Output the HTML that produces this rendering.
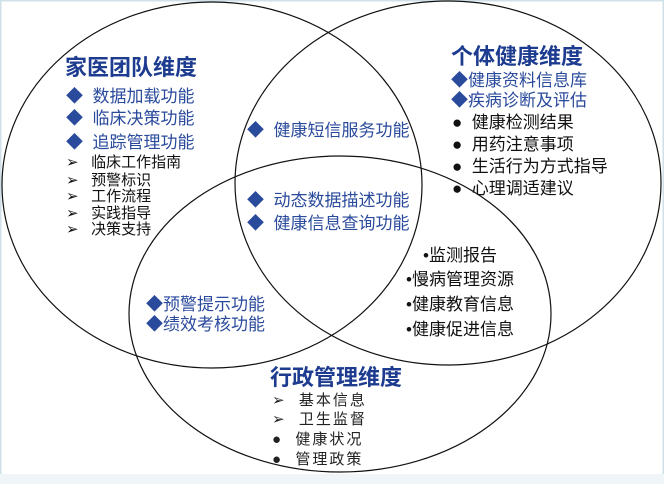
<!DOCTYPE html>
<html><head><meta charset="utf-8"><style>
body{margin:0;width:664px;height:484px;background:#fff;overflow:hidden;position:relative;font-family:"Liberation Sans","Noto Sans CJK SC",sans-serif}
.t{position:absolute;white-space:nowrap;line-height:1}
.h{font-weight:bold;font-size:22px;color:#1d3c8f}
.b{color:#2a4a9c;font-size:17px}
.k{color:#111;font-size:17px}
.k2{color:#111;font-size:15px}
.w{color:#222;font-size:15px;letter-spacing:2px}
</style></head><body>
<svg width="664" height="484" style="position:absolute;left:0;top:0">
<rect x="0.5" y="0.5" width="663" height="483" fill="none" stroke="#cfe0e8" stroke-width="2"/>
<rect x="0" y="474" width="664" height="10" fill="#f0f6f8"/>
<g fill="none" stroke="#111" stroke-width="1.2">
<ellipse cx="212" cy="185" rx="210" ry="183"/>
<ellipse cx="448" cy="183" rx="213" ry="182"/>
<ellipse cx="340" cy="314" rx="211" ry="158"/>
</g></svg>
<div class="t h" style="left:65px;top:57px">家医团队维度</div>
<div class="t b" style="left:66px;top:88px">◆&nbsp;&nbsp;数据加载功能</div>
<div class="t b" style="left:66px;top:110px">◆&nbsp;&nbsp;临床决策功能</div>
<div class="t b" style="left:66px;top:134px">◆&nbsp;&nbsp;追踪管理功能</div>
<div class="t k2" style="left:66px;top:155px">➢&nbsp;&nbsp;&nbsp;临床工作指南</div>
<div class="t k2" style="left:66px;top:173px">➢&nbsp;&nbsp;&nbsp;预警标识</div>
<div class="t k2" style="left:66px;top:189px">➢&nbsp;&nbsp;&nbsp;工作流程</div>
<div class="t k2" style="left:66px;top:206px">➢&nbsp;&nbsp;&nbsp;实践指导</div>
<div class="t k2" style="left:66px;top:222px">➢&nbsp;&nbsp;&nbsp;决策支持</div>
<div class="t b" style="left:247px;top:122px">◆&nbsp;&nbsp;健康短信服务功能</div>
<div class="t b" style="left:247px;top:192px">◆&nbsp;&nbsp;动态数据描述功能</div>
<div class="t b" style="left:247px;top:215px">◆&nbsp;&nbsp;健康信息查询功能</div>
<div class="t h" style="left:451px;top:46px">个体健康维度</div>
<div class="t b" style="left:451px;top:72px">◆健康资料信息库</div>
<div class="t b" style="left:451px;top:92px">◆疾病诊断及评估</div>
<div class="t k" style="left:452px;top:114px">●&nbsp;&nbsp;健康检测结果</div>
<div class="t k" style="left:452px;top:136px">●&nbsp;&nbsp;用药注意事项</div>
<div class="t k" style="left:452px;top:158px">●&nbsp;&nbsp;生活行为方式指导</div>
<div class="t k" style="left:452px;top:180px">●&nbsp;&nbsp;心理调适建议</div>
<div class="t k" style="left:423px;top:247px">•监测报告</div>
<div class="t k" style="left:406px;top:271px">•慢病管理资源</div>
<div class="t k" style="left:406px;top:296px">•健康教育信息</div>
<div class="t k" style="left:406px;top:321px">•健康促进信息</div>
<div class="t b" style="left:146px;top:296px">◆预警提示功能</div>
<div class="t b" style="left:146px;top:316px">◆绩效考核功能</div>
<div class="t h" style="left:270px;top:367px">行政管理维度</div>
<div class="t w" style="left:272px;top:393px">➢&nbsp;&nbsp;基本信息</div>
<div class="t w" style="left:272px;top:412px">➢&nbsp;&nbsp;卫生监督</div>
<div class="t w" style="left:272px;top:432px">●&nbsp;&nbsp;健康状况</div>
<div class="t w" style="left:272px;top:452px">●&nbsp;&nbsp;管理政策</div>
</body></html>
